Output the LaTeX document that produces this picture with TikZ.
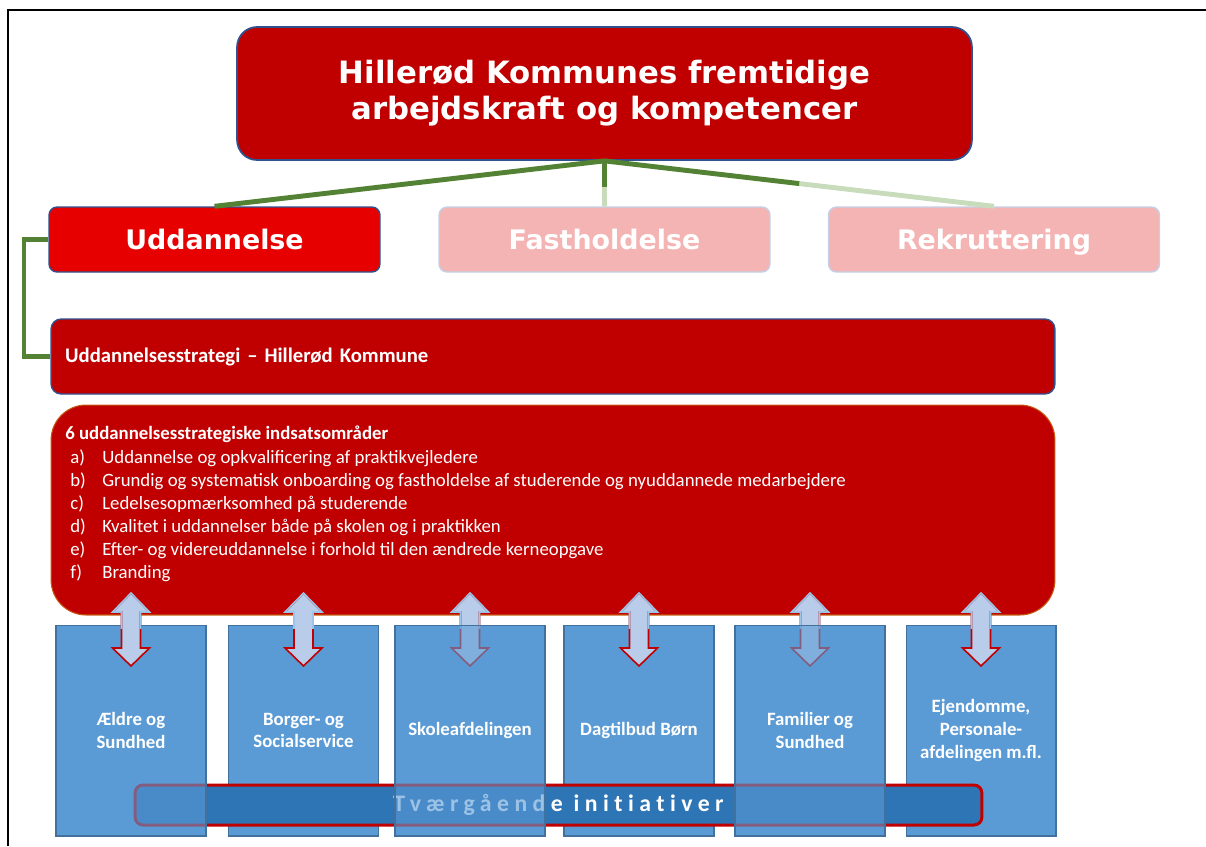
\documentclass[tikz,border=0pt]{standalone}
\usepackage{fontspec}
\setmainfont{Carlito}
\newfontfamily\headfont{DejaVu Sans}
\usetikzlibrary{calc}
\definecolor{hkred}{HTML}{C00000}
\definecolor{uddred}{HTML}{E60000}
\definecolor{palered}{HTML}{F4B4B4}
\definecolor{paleedge}{HTML}{C5D0E6}
\definecolor{edgeblue}{HTML}{2F528F}
\definecolor{branchgreen}{HTML}{548235}
\definecolor{faintgreen}{HTML}{C8DCBC}
\definecolor{omredge}{HTML}{C55A11}
\definecolor{unitblue}{HTML}{5B9BD5}
\definecolor{unitedge}{HTML}{41719C}
\definecolor{barblue}{HTML}{2E75B6}
\definecolor{arrowblue}{HTML}{B9CDEB}
\definecolor{arrowedge}{HTML}{9DC3E6}
\tikzset{px/.style={x=0.02cm,y=-0.02cm},
  head box/.style={fill=hkred,draw=edgeblue,line width=1pt,rounded corners=0.4cm,minimum width=14.7cm,minimum height=2.66cm,text=white,align=center,font=\headfont\bfseries\fontsize{17.5}{20.5}\selectfont},
  area box/.style={draw,line width=0.8pt,rounded corners=0.16cm,minimum width=6.62cm,minimum height=1.3cm,text height=11pt,text depth=0pt,text=white,font=\headfont\bfseries\fontsize{15.3}{18}\selectfont},
  udd box/.style={area box,fill=uddred,draw=edgeblue},
  pale box/.style={area box,fill=palered,draw=paleedge},
  strat box/.style={fill=hkred,draw=edgeblue,line width=0.8pt,rounded corners=0.2cm,minimum height=1.5cm,text width=19.52cm,inner xsep=0.28cm,align=left,text=white,font=\bfseries\fontsize{11.8}{14}\selectfont},
  omr box/.style={fill=hkred,draw=omredge,line width=0.6pt,rounded corners=0.7cm,minimum width=20.08cm,minimum height=4.2cm},
  list text/.style={inner sep=0pt,text=white,font=\fontsize{10.7}{13}\selectfont},
  unit box/.style={fill=unitblue,draw=unitedge,line width=0.6pt,minimum width=3cm,minimum height=4.22cm,text=white,align=center,font=\bfseries\fontsize{10.7}{13}\selectfont},
  unit veil/.style={unit box,fill opacity=0.6,text opacity=1},
  bar box/.style={fill=barblue,draw=hkred,line width=1.7pt,rounded corners=0.16cm,minimum width=16.94cm,minimum height=0.8cm,text=white,font=\bfseries\fontsize{13.5}{15}\selectfont\addfontfeature{LetterSpace=23,Ligatures=NoCommon}},
  branch/.style={draw=branchgreen,line width=2.8pt},
  branch faint/.style={draw=faintgreen,line width=2.8pt},
  frame/.style={draw=black,line width=1.7pt},
  arrowpath/.style={insert path={(#1,593) -- ++(18.5,19) -- ++(-9,0) -- ++(0,36) -- ++(9,0) -- ++(-18.5,18) -- ++(-18.5,-18) -- ++(9,0) -- ++(0,-36) -- ++(-9,0) -- cycle}},
  arrow fill/.style={fill=arrowblue,draw=hkred,line width=0.9pt},
  arrow edge/.style={draw=arrowedge,line width=0.9pt}}
\newcommand{\dualarrow}[1]{%
  \path[arrow fill,arrowpath=#1];
  \begin{scope}
    \clip (#1-25,585) rectangle (#1+25,628);
    \path[arrow edge,arrowpath=#1];
  \end{scope}}

\begin{document}
\begin{tikzpicture}[px]
\useasboundingbox (0,0) rectangle (1206,846);
\draw[frame] (8,846) |- (1206,10);
% top level
\node[head box] (top) at (604.5,93.5) {Hillerød Kommunes fremtidige\\arbejdskraft og kompetencer};
\node[udd box] (udd) at (214.5,239.5) {Uddannelse};
\node[pale box] (fast) at (604.5,239.5) {Fastholdelse};
\node[pale box] (rekr) at (994,239.5) {Rekruttering};
\path (top.south) -- coordinate[pos=0.57] (fm) (fast.north);
\path (top.south) -- coordinate[pos=0.5] (rm) (rekr.north);
\draw[branch faint] (fm) -- (fast.north) (rm) -- (rekr.north);
\draw[branch] (top.south) -- (udd.north) (top.south) -- (fm) (top.south) -- (rm);
% strategy
\node[strat box] (strat) at (553,356.5) {Uddannelsesstrategi – Hillerød Kommune};
\draw[branch,line width=2.3pt] (udd.west) -- ++(-24,0) |- (strat.west);
\node[omr box] (omr) at (553,510) {};
\node[list text,anchor=north west] (omrtxt) at (65,423) {%
  \begin{tabular}{@{\hspace{0.1cm}}p{0.64cm}@{}l@{}}
  \multicolumn{2}{@{}l@{}}{\bfseries 6 uddannelsesstrategiske indsatsområder}\\[1pt]
  a) & Uddannelse og opkvalificering af praktikvejledere\\
  b) & Grundig og systematisk onboarding og fastholdelse af studerende og nyuddannede medarbejdere\\
  c) & Ledelsesopmærksomhed på studerende\\
  d) & Kvalitet i uddannelser både på skolen og i praktikken\\
  e) & Efter- og videreuddannelse i forhold til den ændrede kerneopgave\\
  f) & Branding
  \end{tabular}};
% units (1, 3 and 5 lie over the bar, half see-through)
\node[unit box] (b1base) at (131,730.5) {};
\node[unit box] (b2) at (303.5,730.5) {Borger- og\\Socialservice};
\node[unit box] (b3base) at (470,730.5) {};
\node[unit box] (b4) at (639,730.5) {Dagtilbud Børn};
\node[unit box] (b5base) at (810,730.5) {};
\node[unit box] (b6) at (981,730.5) {Ejendomme,\\Personale-\\afdelingen m.fl.};
\dualarrow{470}
\dualarrow{810}
\node[bar box] (bar) at (558.5,805) {Tværgående initiativer};
\node[unit veil] (b1) at (b1base) {Ældre og\\Sundhed};
\node[unit veil] (b3) at (b3base) {Skoleafdelingen};
\node[unit veil] (b5) at (b5base) {Familier og\\Sundhed};
\foreach \x in {131,303.5,639,981}{\dualarrow{\x}}
\end{tikzpicture}
\end{document}
